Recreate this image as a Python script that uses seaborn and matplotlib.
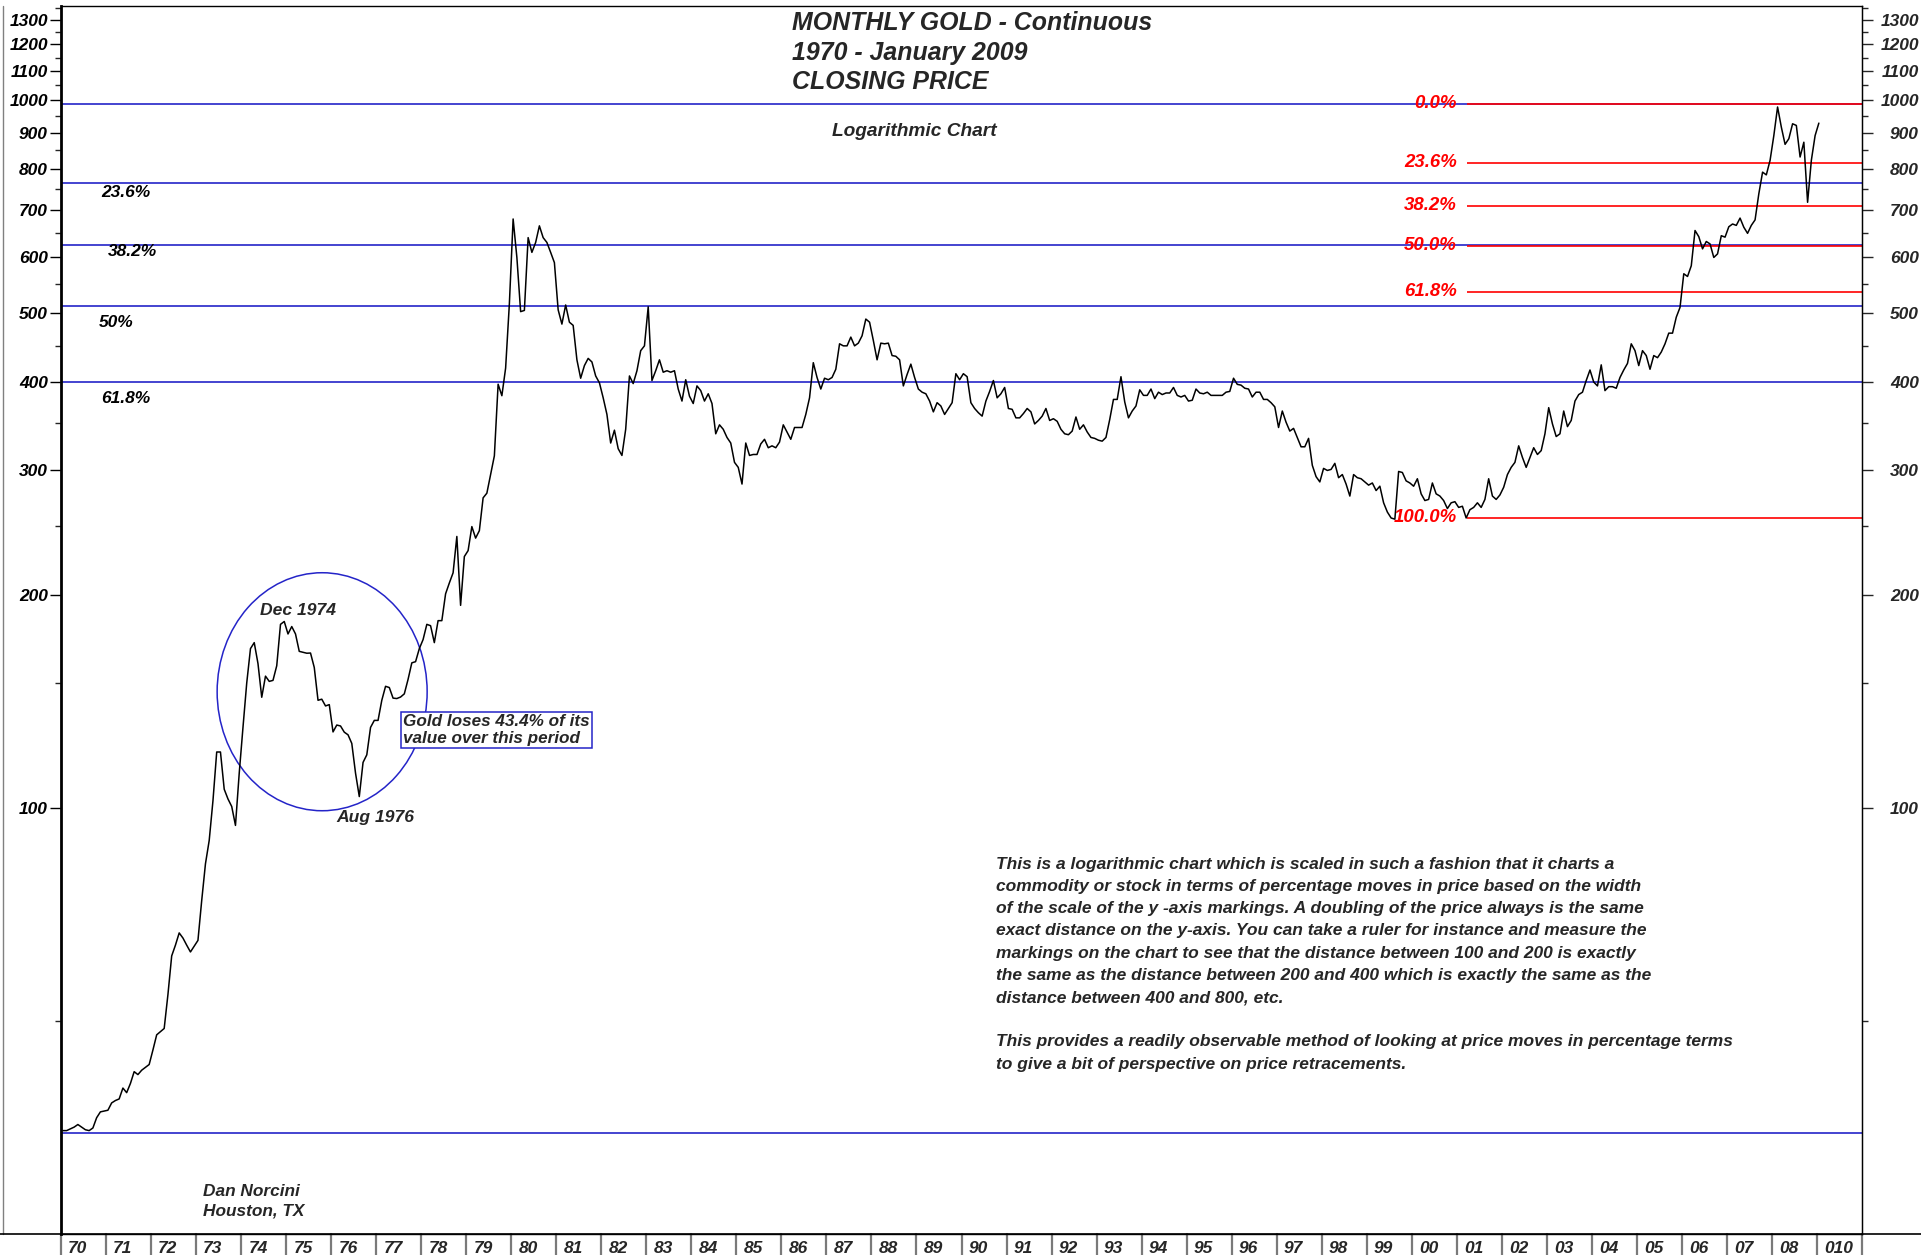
import numpy as np
import matplotlib
matplotlib.use('Agg')
import matplotlib.pyplot as plt
import matplotlib.transforms as mtransforms
from matplotlib.patches import Ellipse
from matplotlib.lines import Line2D
from matplotlib.ticker import FixedLocator, FixedFormatter, NullFormatter
import seaborn as sns

# monthly closing prices (USD/oz), one row per year, Jan..Dec
closes_1970s = [
    35.0, 35.0, 35.2, 35.4, 35.7, 35.4, 35.1, 35.0, 35.3, 36.5, 37.2, 37.3,   # 1970
    37.4, 38.3, 38.6, 38.8, 40.2, 39.6, 40.8, 42.4, 42.0, 42.6, 43.0, 43.4,   # 1971
    45.5, 47.8, 48.3, 48.8, 54.5, 61.8, 64.0, 66.6, 65.5, 64.0, 62.6, 63.8,   # 1972
    65.0, 74.0, 83.4, 90.0, 102.4, 120.0, 120.0, 106.3, 103.0, 100.5, 94.5, 112.0,  # 1973
    130.0, 150.2, 168.0, 171.3, 160.0, 143.4, 153.6, 151.0, 151.5, 158.9, 181.8, 183.5,  # 1974
    176.2, 180.5, 176.2, 166.5, 166.0, 165.5, 165.6, 158.0, 142.0, 142.5, 139.4, 140.0,  # 1975
    128.1, 131.0, 130.6, 128.0, 126.9, 123.4, 112.0, 103.8, 116.0, 118.9, 130.0, 133.0,  # 1976
    133.0, 142.0, 148.6, 148.0, 143.0, 142.8, 143.5, 145.0, 152.0, 160.4, 161.0, 168.0,  # 1977
    173.0, 181.8, 181.0, 171.3, 184.0, 184.0, 200.8, 208.0, 215.0, 242.0, 193.4, 226.7,  # 1978
    231.1, 249.9, 240.7, 246.6, 274.4, 278.6, 296.0, 314.6, 397.2, 382.6, 418.6, 516.2,  # 1979
]
closes_1980s = [
    680, 600, 503, 505, 640, 610, 630, 665, 640, 630, 610, 590,   # 1980
    506, 483, 514, 486, 481, 430, 405, 422, 432, 427, 408, 399,   # 1981
    380, 360, 328, 342, 322, 315, 343, 408, 398, 415, 443, 450,   # 1982
    511, 402, 415, 430, 413, 415, 413, 415, 391, 376, 403, 382,   # 1983
    373, 395, 389, 376, 385, 373, 338, 348, 343, 334, 328, 308,   # 1984
    303, 287, 328, 315, 316, 316, 327, 332, 323, 325, 323, 329,   # 1985
    348, 340, 332, 345, 345, 345, 360, 380, 426, 406, 391, 405,   # 1986
    403, 406, 417, 453, 450, 450, 463, 450, 454, 465, 491, 486,   # 1987
    458, 430, 454, 453, 454, 436, 435, 430, 395, 410, 424, 406,   # 1988
    391, 387, 385, 376, 363, 374, 370, 360, 367, 374, 411, 403,   # 1989
]
closes_1990s = [
    411, 407, 374, 367, 362, 358, 376, 388, 402, 380, 385, 393,   # 1990
    367, 366, 356, 356, 361, 367, 363, 349, 353, 358, 367, 353,   # 1991
    355, 352, 343, 338, 337, 341, 357, 343, 348, 340, 334, 333,   # 1992
    331, 330, 334, 354, 378, 378, 407, 375, 356, 364, 370, 390,   # 1993
    383, 383, 391, 379, 387, 384, 386, 386, 393, 383, 381, 383,   # 1994
    376, 377, 391, 386, 385, 387, 383, 383, 383, 383, 387, 388,   # 1995
    405, 397, 396, 392, 391, 381, 387, 387, 378, 378, 374, 369,   # 1996
    345, 364, 351, 341, 344, 334, 324, 324, 333, 305, 294, 289,   # 1997
    302, 300, 301, 307, 293, 296, 287, 276, 296, 293, 292, 289,   # 1998
    286, 288, 281, 285, 270, 262, 257, 256, 299, 298, 290, 288,   # 1999
]
closes_2000s = [
    285, 292, 278, 272, 273, 288, 278, 276, 272, 265, 270, 271,   # 2000
    266, 267, 257, 264, 266, 270, 266, 273, 292, 276, 273, 277,   # 2001
    284, 296, 303, 308, 325, 313, 303, 313, 323, 316, 320, 338,   # 2002
    368, 349, 335, 338, 364, 346, 353, 376, 384, 387, 402, 416,   # 2003
    400, 395, 423, 389, 394, 394, 392, 406, 416, 425, 453, 443,   # 2004
    422, 443, 436, 417, 436, 433, 441, 453, 469, 469, 494, 510,   # 2005
    569, 564, 584, 655, 642, 617, 632, 627, 600, 607, 644, 641,   # 2006
    663, 669, 666, 682, 662, 649, 666, 678, 738, 792, 785, 823,   # 2007
    892, 979, 917, 867, 883, 927, 922, 832, 873, 718, 823, 892,   # 2008
    929,                                                          # 2009
]

# retracement levels
blue_levels = [990, 765, 625, 512, 400, 34.7]
left_fib_labels = ['23.6%', '38.2%', '50%', '61.8%']
left_fib_x = [1970.9, 1971.05, 1970.85, 1970.9]
left_fib_y = [741, 611, 485, 379]

red_levels = [990, 817, 710, 623, 537, 257]
red_labels = ['0.0%', '23.6%', '38.2%', '50.0%', '61.8%', '100.0%']
red_start = 2001.22

# axis ticks
y_major = [100, 200, 300, 400, 500, 600, 700, 800, 900, 1000, 1100, 1200, 1300]
y_major_labels = ['100', '200', '300', '400', '500', '600', '700', '800', '900',
                  '1000', '1100', '1200', '1300']
y_minor = [50, 150, 250, 350, 450, 550, 650, 750, 850, 950, 1050, 1150, 1250, 1350]
year_ticks = list(range(1970, 2010))
year_labels = ['70', '71', '72', '73', '74', '75', '76', '77', '78', '79',
               '80', '81', '82', '83', '84', '85', '86', '87', '88', '89',
               '90', '91', '92', '93', '94', '95', '96', '97', '98', '99',
               '00', '01', '02', '03', '04', '05', '06', '07', '08', '010']

paragraph = ("This is a logarithmic chart which is scaled in such a fashion that it charts a\n"
             "commodity or stock in terms of percentage moves in price based on the width\n"
             "of the scale of the y -axis markings. A doubling of the price always is the same\n"
             "exact distance on the y-axis. You can take a ruler for instance and measure the\n"
             "markings on the chart to see that the distance between 100 and 200 is exactly\n"
             "the same as the distance between 200 and 400 which is exactly the same as the\n"
             "distance between 400 and 800, etc.\n"
             "\n"
             "This provides a readily observable method of looking at price moves in percentage terms\n"
             "to give a bit of perspective on price retracements.")

sns.set_style('white')
plt.rcParams['font.family'] = ['Liberation Sans', 'DejaVu Sans']
plt.rcParams['font.weight'] = 'bold'
plt.rcParams['font.style'] = 'italic'

BLUE = '#2424C8'
RED = '#FF0000'

W, H = 1921, 1255
fig = plt.figure(figsize=(W / 100, H / 100), dpi=100)
ax_left, ax_right, ax_top, ax_bot = 61, 1862, 6, 1234
ax = fig.add_axes([ax_left / W, 1 - ax_bot / H, (ax_right - ax_left) / W, (ax_bot - ax_top) / H])

closes = np.array(closes_1970s + closes_1980s + closes_1990s + closes_2000s, dtype=float)
dates = 1970 + (np.arange(len(closes)) + 0.5) / 12.0

# horizontal retracement lines
for lv in blue_levels:
    ax.axhline(lv, color=BLUE, lw=1.2, zorder=1)
for lv in red_levels:
    ax.hlines(lv, red_start, 2010, color=RED, lw=1.2, zorder=2)

sns.lineplot(x=dates, y=closes, ax=ax, color='black', linewidth=1.1, zorder=3)

ax.set_yscale('log')
ax.set_ylim(25, 1360)
ax.set_xlim(1970, 2010)
ax.set_xticks([])
ax.set_xlabel('')
ax.set_ylabel('')

ax.yaxis.set_major_locator(FixedLocator(y_major))
ax.yaxis.set_major_formatter(FixedFormatter(y_major_labels))
ax.yaxis.set_minor_locator(FixedLocator(y_minor))
ax.yaxis.set_minor_formatter(NullFormatter())
ax.tick_params(axis='y', which='major', direction='out', length=8, width=1, pad=1.5,
               labelsize=12.5, left=True, colors='black')
ax.tick_params(axis='y', which='minor', direction='out', length=4, width=1, left=True)

for side in ['top', 'bottom', 'right']:
    ax.spines[side].set_color('black')
    ax.spines[side].set_linewidth(1)
ax.spines['left'].set_color('black')
ax.spines['left'].set_linewidth(2)

# right-hand price scale
ax2 = ax.twinx()
ax2.set_yscale('log')
ax2.set_ylim(25, 1360)
ax2.yaxis.set_major_locator(FixedLocator(y_major))
ax2.yaxis.set_major_formatter(FixedFormatter(y_major_labels))
ax2.yaxis.set_minor_locator(FixedLocator(y_minor))
ax2.yaxis.set_minor_formatter(NullFormatter())
ax2.tick_params(axis='y', which='major', direction='out', length=8, width=1, pad=33,
                labelsize=12.5, right=True)
ax2.tick_params(axis='y', which='minor', direction='out', length=4, width=1, right=True)
for lbl in ax2.get_yticklabels():
    lbl.set_horizontalalignment('right')
for side in ['top', 'bottom', 'left']:
    ax2.spines[side].set_visible(False)
ax2.spines['right'].set_color('black')

# year labels under the axis with separators
trans = mtransforms.blended_transform_factory(ax.transData, ax.transAxes)
for yr in year_ticks + [2010]:
    ax.plot([yr, yr], [0, -0.02], transform=trans, clip_on=False, color='#7a7a7a', lw=1.6)
for yr, lab in zip(year_ticks, year_labels):
    ax.text(yr + 0.16, -0.0055, lab, transform=trans, ha='left', va='top', fontsize=12.5,
            family=['Liberation Sans Narrow', 'Liberation Sans'])

# retracement labels
for lab, x, y in zip(left_fib_labels, left_fib_x, left_fib_y):
    ax.text(x, y, lab, ha='left', va='center', fontsize=12.5, color='black')
for lab, lv in zip(red_labels, red_levels):
    ax.text(2001.0, lv, lab, ha='right', va='center', fontsize=13.4, color=RED, zorder=4)

# circle around the 1974-76 decline
ell = Ellipse((0, 0), 210, 238, fill=False, ec=BLUE, lw=1.1,
              transform=mtransforms.ScaledTranslation(1975.8, 146, ax.transData))
ax.add_artist(ell)
ax.text(1974.42, 190, 'Dec 1974', ha='left', va='center', fontsize=12.6)
ax.text(1976.11, 97, 'Aug 1976', ha='left', va='center', fontsize=12.6)
ax.text(1977.6, 129, 'Gold loses 43.4% of its\nvalue over this period', ha='left', va='center',
        fontsize=12.3, linespacing=1.2,
        bbox=dict(boxstyle='square,pad=0.12', fc='white', ec=BLUE, lw=1.1))

ax.text(1990.76, 85.3, paragraph, ha='left', va='top', fontsize=12.5, linespacing=1.6)
ax.text(1973.16, 27.8, 'Dan Norcini\nHouston, TX', ha='left', va='center', fontsize=12.4,
        linespacing=1.35)

# titles
fig.text(792 / W, 1 - 23 / H, 'MONTHLY GOLD - Continuous', ha='left', va='center', fontsize=17.9)
fig.text(792 / W, 1 - 53 / H, '1970 - January 2009', ha='left', va='center', fontsize=17.9)
fig.text(792 / W, 1 - 82 / H, 'CLOSING PRICE', ha='left', va='center', fontsize=17.9)
fig.text(832 / W, 1 - 132 / H, 'Logarithmic Chart', ha='left', va='center', fontsize=13.8)

# outer frame pieces
fig.add_artist(Line2D([3 / W, 3 / W], [1 - ax_bot / H, 1 - ax_top / H], transform=fig.transFigure,
                      color='#808080', lw=1))
fig.add_artist(Line2D([0, 1], [1 - ax_bot / H, 1 - ax_bot / H], transform=fig.transFigure,
                      color='black', lw=1.2))

fig.savefig('out.png', dpi=100, facecolor='white')
